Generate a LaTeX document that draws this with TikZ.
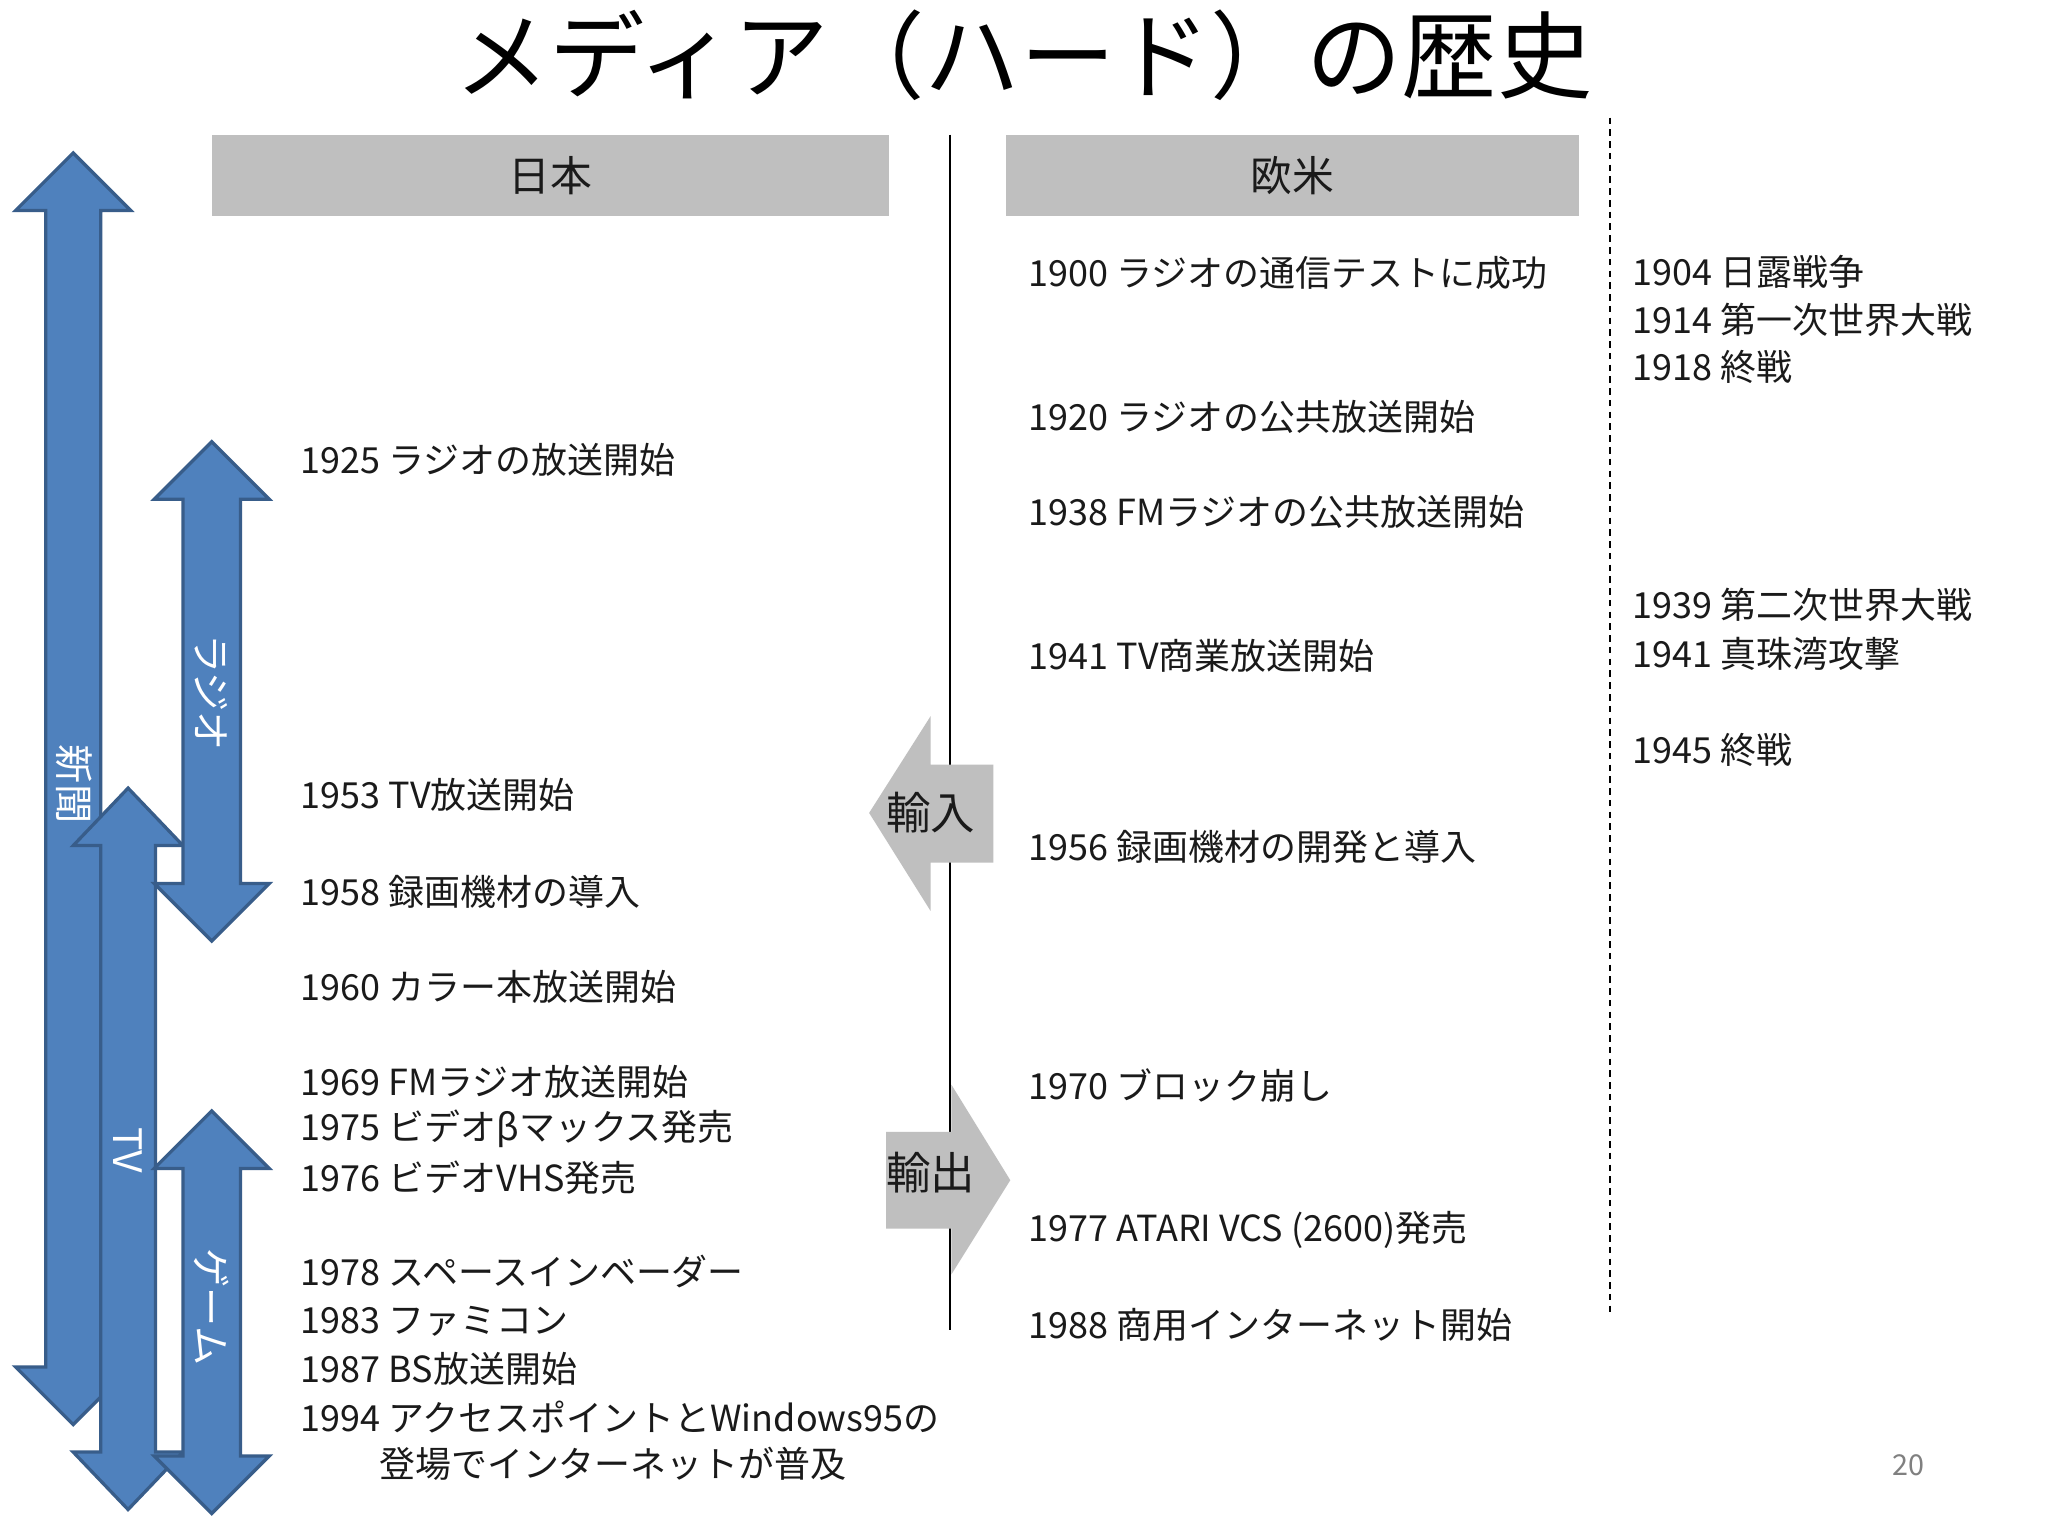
\documentclass[tikz,border=0pt]{standalone}
\usepackage{fontspec}
\setmainfont{Noto Sans CJK JP}
\definecolor{ablue}{HTML}{4F81BD}
\definecolor{ablueb}{HTML}{385D8A}
\definecolor{hgray}{HTML}{BFBFBF}
\definecolor{agray}{HTML}{BFBFBF}
\definecolor{txt}{HTML}{1A1A1A}
\newcommand\dblarrow[6]{% cx, halfhead, halfshaft, top, bottom, headlen
 \fill[ablue,draw=ablueb,line width=2.5pt] (#1,#4) -- (#1+#2,#4+#6) -- (#1+#3,#4+#6) -- (#1+#3,#5-#6) -- (#1+#2,#5-#6)
  -- (#1,#5) -- (#1-#2,#5-#6) -- (#1-#3,#5-#6) -- (#1-#3,#4+#6) -- (#1-#2,#4+#6) -- cycle;}
\tikzset{ev/.style={anchor=west,inner sep=0pt,text=txt,font=\fontsize{27.5}{30}\selectfont},
 alab/.style={rotate=-90,text=white,inner sep=0pt,font=\fontsize{30}{32}\selectfont},
 hdr/.style={fill=hgray,inner sep=0pt,text=txt,font=\fontsize{32}{34}\selectfont}}
\begin{document}
\begin{tikzpicture}[x=1pt,y=-1pt]
\useasboundingbox[fill=white] (0,0) rectangle (1567,1175.25);
\node[text=black,font=\fontsize{73}{76}\selectfont] (title) at (783,42) {メディア（ハード）の歴史};
% arrows
\dblarrow{56}{44}{21}{117}{1090}{44}
\dblarrow{98}{42}{21}{603}{1155}{44}
\dblarrow{162}{44}{22}{338}{720}{44}
\dblarrow{162}{44}{22}{850}{1158}{44}
\node[alab] (n1) at (57,600) {新聞};
\node[alab] (n2) at (98,880) {TV};
\node[alab] (n3) at (162,530) {ラジオ};
\node[alab] (n4) at (162,1000) {ゲーム};
% headers
\node[hdr,minimum width=518pt,minimum height=62pt] (jp) at (421,134) {日本};
\node[hdr,minimum width=438pt,minimum height=62pt] (ea) at (989,134) {欧米};
\draw[black,line width=1.5pt] (727,103) -- (727,1018);
\draw[black,line width=1.5pt,dash pattern=on 5pt off 4pt] (1232,90) -- (1232,1005);
% import/export
\fill[agray] (665,622) -- (712,548) -- (712,585) -- (760,585) -- (760,660) -- (712,660) -- (712,697) -- cycle;
\node[text=txt,font=\fontsize{34}{36}\selectfont] (imp) at (712,622) {輸入};
\fill[agray] (773,903) -- (728,830) -- (728,866) -- (678,866) -- (678,940) -- (728,940) -- (728,975) -- cycle;
\node[text=txt,font=\fontsize{34}{36}\selectfont] (exp) at (712,897) {輸出};
% left events
\node[ev] (a1) at (230,352) {1925 ラジオの放送開始};
\node[ev] (a2) at (230,608) {1953 TV放送開始};
\node[ev] (a3) at (230,682) {1958 録画機材の導入};
\node[ev] (a4) at (230,755) {1960 カラー本放送開始};
\node[ev] (a5) at (230,828) {1969 FMラジオ放送開始};
\node[ev] (a6) at (230,864) {1975 ビデオβマックス発売};
\node[ev] (a7) at (230,901) {1976 ビデオVHS発売};
\node[ev] (a8) at (230,973) {1978 スペースインベーダー};
\node[ev] (a9) at (230,1011) {1983 ファミコン};
\node[ev] (a10) at (230,1047) {1987 BS放送開始};
\node[ev] (a11) at (230,1084) {1994 アクセスポイントとWindows95の};
\node[ev] (a12) at (290,1120) {登場でインターネットが普及};
% right events
\node[ev] (b1) at (787,209) {1900 ラジオの通信テストに成功};
\node[ev] (b2) at (787,319) {1920 ラジオの公共放送開始};
\node[ev] (b3) at (787,392) {1938 FMラジオの公共放送開始};
\node[ev] (b4) at (787,502) {1941 TV商業放送開始};
\node[ev] (b5) at (787,648) {1956 録画機材の開発と導入};
\node[ev] (b6) at (787,831) {1970 ブロック崩し};
\node[ev] (b7) at (787,941) {1977 ATARI VCS (2600)発売};
\node[ev] (b8) at (787,1014) {1988 商用インターネット開始};
% far right
\node[ev] (c1) at (1249,208) {1904 日露戦争};
\node[ev] (c2) at (1249,245) {1914 第一次世界大戦};
\node[ev] (c3) at (1249,281) {1918 終戦};
\node[ev] (c4) at (1249,463) {1939 第二次世界大戦};
\node[ev] (c5) at (1249,500) {1941 真珠湾攻撃};
\node[ev] (c6) at (1249,574) {1945 終戦};
\node[text=gray,font=\fontsize{22}{24}\selectfont] (pg) at (1460,1121) {20};
\end{tikzpicture}
\end{document}
